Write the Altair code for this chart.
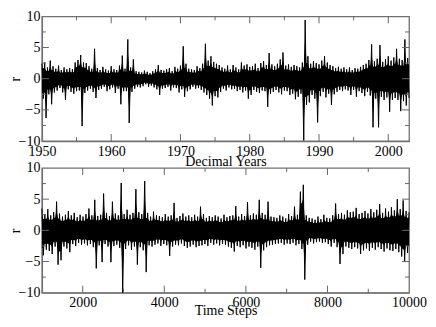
import altair as alt
import pandas as pd

# ---- top panel: r versus decimal years (sampled every 0.2 yr from 1950) ----
year_start = 1950.0
year_step = 0.2
r_years = [
    2.4, -3.2, 2.6, -6.3, 1.8, -2.5, 2.9, -4.1, 2.0, -2.2,
    1.6, -1.9, 2.1, -1.5, 1.4, -2.2, 1.8, -3.4, 1.5, -1.7,
    1.7, -2.1, 1.5, -2.4, 2.6, -2.0, 3.0, -1.9, 3.8, -7.6,
    2.6, -2.3, 2.5, -1.9, 2.0, -1.6, 1.6, -2.1, 4.8, -3.1,
    1.7, -1.8, 1.4, -1.6, 1.9, -1.3, 1.5, -2.0, 1.3, -1.7,
    2.0, -1.4, 1.5, -2.3, 1.4, -1.6, 2.1, -4.1, 3.7, -2.0,
    1.6, -2.0, 6.3, -7.1, 1.8, -2.1, 3.1, -1.6, 1.2, -1.3,
    1.1, -1.4, 1.0, -1.2, 1.3, -0.9, 1.1, -1.3, 0.9, -1.1,
    1.2, -1.4, 1.5, -1.7, 2.2, -2.6, 1.4, -1.6, 1.3, -1.5,
    1.5, -1.3, 1.7, -1.9, 1.2, -1.4, 1.9, -1.5, 1.6, -2.2,
    2.1, -1.7, 5.2, -2.9, 2.4, -2.0, 1.6, -1.7, 1.5, -1.3,
    1.4, -1.6, 2.0, -1.5, 1.7, -1.8, 2.4, -2.2, 5.6, -2.6,
    2.9, -3.2, 3.6, -4.3, 2.7, -2.8, 2.4, -3.0, 2.2, -2.1,
    1.8, -1.6, 1.6, -1.9, 2.1, -1.4, 1.5, -1.7, 2.2, -1.6,
    1.8, -2.0, 1.5, -1.8, 2.6, -2.2, 2.1, -1.9, 2.3, -3.2,
    1.9, -2.6, 2.0, -1.8, 2.4, -2.1, 1.7, -2.3, 2.5, -1.9,
    2.8, -2.0, 2.2, -4.5, 4.1, -2.4, 2.3, -2.1, 2.0, -1.8,
    2.4, -2.2, 3.1, -2.5, 4.2, -1.9, 2.1, -2.0, 2.3, -2.6,
    1.9, -2.4, 2.2, -3.3, 2.0, -2.9, 1.8, -2.4, 2.6, -9.9,
    9.4, -4.2, 3.6, -3.8, 2.4, -2.6, 2.8, -3.2, 2.5, -7.0,
    2.3, -2.8, 2.9, -2.1, 3.6, -3.0, 2.6, -2.4, 2.2, -4.2,
    2.0, -2.5, 1.7, -2.1, 1.9, -1.8, 1.6, -2.0, 1.8, -1.7,
    1.5, -1.9, 1.8, -2.6, 1.4, -1.8, 1.7, -2.9, 1.6, -2.0,
    1.9, -2.3, 2.2, -2.8, 2.4, -2.1, 3.0, -2.7, 5.5, -7.8,
    2.8, -3.2, 3.2, -7.8, 5.4, -2.9, 2.7, -3.4, 3.1, -3.0,
    3.6, -5.3, 2.9, -3.4, 3.4, -3.1, 4.8, -3.4, 3.2, -5.2,
    3.0, -3.6, 6.3, -4.3, 3.3, -3.1,
]

# ---- bottom panel: r versus time steps (sampled every 36 steps from 1000) ----
step_start = 1000
step_step = 36
r_steps = [
    3.5, -4.0, 2.6, -3.1, 3.4, -3.3, 2.4, -3.8, 2.9, -2.6,
    4.6, -5.5, 2.7, -4.8, 2.2, -2.6, 2.5, -2.9, 3.1, -3.5,
    2.4, -2.2, 2.8, -2.5, 2.1, -2.0, 2.5, -2.3, 2.2, -2.1,
    2.6, -2.4, 3.5, -2.2, 2.4, -2.7, 4.9, -6.1, 2.3, -2.4,
    2.5, -5.1, 5.9, -2.2, 2.8, -2.6, 2.3, -5.1, 4.6, -2.5,
    2.7, -2.3, 2.4, -2.8, 7.6, -10.0, 2.6, -3.0, 3.3, -2.4,
    2.5, -3.1, 2.8, -2.6, 6.6, -5.5, 2.9, -2.7, 2.6, -3.2,
    7.9, -6.7, 2.8, -2.4, 2.2, -2.6, 3.0, -2.3, 2.4, -2.1,
    2.3, -2.5, 2.1, -2.2, 2.6, -2.4, 2.2, -4.1, 2.4, -2.6,
    4.4, -2.3, 2.0, -2.4, 2.3, -2.1, 2.7, -2.5, 2.2, -2.8,
    2.4, -2.6, 2.1, -2.3, 2.5, -2.7, 2.2, -2.5, 3.8, -2.4,
    2.6, -2.2, 2.0, -2.5, 2.3, -2.0, 2.1, -2.3, 2.4, -2.1,
    2.2, -2.4, 1.9, -2.2, 2.5, -2.3, 2.1, -2.6, 2.3, -2.8,
    2.4, -3.4, 3.9, -2.5, 2.2, -2.7, 2.6, -2.4, 2.3, -2.9,
    4.5, -2.6, 2.4, -2.8, 2.7, -3.1, 2.5, -2.6, 4.9, -6.0,
    2.8, -3.2, 2.5, -2.7, 4.6, -2.4, 2.2, -2.3, 2.1, -2.2,
    2.0, -2.1, 2.4, -2.0, 2.2, -2.3, 1.9, -2.1, 2.6, -2.2,
    2.3, -2.0, 3.8, -2.4, 2.5, -2.2, 6.2, -3.0, 7.3, -7.9,
    2.4, -2.3, 2.0, -1.8, 1.9, -2.1, 1.7, -1.9, 2.2, -1.8,
    1.8, -2.0, 2.5, -1.9, 2.0, -2.2, 1.9, -2.6, 2.4, -2.0,
    4.3, -2.7, 2.6, -5.4, 2.8, -3.8, 2.5, -2.6, 3.2, -2.8,
    2.9, -3.0, 3.0, -2.7, 3.6, -2.9, 2.6, -3.8, 2.8, -3.2,
    3.1, -2.9, 2.7, -3.3, 3.4, -2.8, 2.9, -3.1, 3.3, -2.7,
    4.2, -3.0, 2.8, -3.4, 3.5, -2.9, 3.0, -3.2, 3.7, -3.3,
    3.2, -3.0, 5.0, -3.5, 3.4, -4.2, 4.8, -5.0, 3.1, -3.6,
    2.9,
]

# ---- axes: labels and tick positions ----
year_domain = [1950, 2003]
step_domain = [1000, 10000]
r_domain = [-10, 10]
year_labels = [1950, 1960, 1970, 1980, 1990, 2000]
step_labels = [2000, 4000, 6000, 8000, 10000]
r_labels = [-10, -5, 0, 5, 10]
year_major = [1960, 1970, 1980, 1990, 2000]
year_minor = [1955, 1965, 1975, 1985, 1995]
step_major = [2000, 4000, 6000, 8000]
step_minor = [3000, 5000, 7000, 9000]
r_major = [-5, 0, 5]
r_minor = [-7.5, -2.5, 2.5, 7.5]

W, H = 368, 125
TICK = "#666666"
FRAME = "#707070"
FONT = "Liberation Serif"
CORE = 0.7  # share of the smaller neighbouring swing drawn as the dense core


def build_table(t0, dt, vals):
    rows = []
    n = len(vals)
    for i, v in enumerate(vals):
        win = vals[max(0, i - 1):min(n, i + 2)]
        pos = [w for w in win if w > 0]
        neg = [w for w in win if w < 0]
        hi = CORE * min(pos) if pos else 0.0
        lo = CORE * max(neg) if neg else 0.0
        rows.append({"t": t0 + dt * i, "r": v, "hi": hi, "lo": lo})
    return pd.DataFrame(rows)


def panel(t0, dt, vals, xdom, xlabels, xmaj, xmin, xtitle, title_y):
    df = build_table(t0, dt, vals)
    xs = alt.Scale(domain=xdom, nice=False, zero=False)
    ys = alt.Scale(domain=r_domain, nice=False, zero=False)
    common = dict(ticks=False, grid=False, labelFlush=False, labelOverlap=False,
                  labelFont=FONT, labelFontSize=14, labelColor="black",
                  titleFont=FONT, titleFontSize=14, titleFontWeight="normal",
                  titleColor="black", domainColor=FRAME, domainWidth=1.3)
    xaxis = alt.Axis(values=xlabels, title=xtitle, labelPadding=3, format="d",
                     titleY=title_y, **common)
    yaxis = alt.Axis(values=r_labels, title="r", labelPadding=2,
                     titleX=-22, titleY=H / 2, titleAngle=270,
                     titleBaseline="alphabetic", titleAlign="center", **common)
    X = alt.X("t:Q", scale=xs, axis=xaxis)
    Y = alt.Y("r:Q", scale=ys, axis=yaxis)
    core = alt.Chart(df).mark_area(color="black", opacity=1).encode(
        x=X, y=alt.Y("hi:Q", scale=ys, axis=yaxis), y2="lo:Q")
    line = alt.Chart(df).mark_line(color="black", strokeWidth=1).encode(x=X, y=Y)

    def xt(vals_, y0, y1):
        return alt.Chart(pd.DataFrame({"t": vals_})).mark_rule(
            color=TICK, strokeWidth=1).encode(
            x=X, y=alt.value(y0), y2=alt.value(y1))

    def yt(vals_, x0, x1):
        return alt.Chart(pd.DataFrame({"r": vals_})).mark_rule(
            color=TICK, strokeWidth=1).encode(
            y=Y, x=alt.value(x0), x2=alt.value(x1))

    layers = [
        core, line,
        xt(xmaj, 0, 7), xt(xmaj, H, H - 7),
        xt(xmin, 0, 4), xt(xmin, H, H - 4),
        yt(r_major, 0, 7), yt(r_major, W, W - 7),
        yt(r_minor, 0, 4), yt(r_minor, W, W - 4),
    ]
    return alt.layer(*layers).properties(width=W, height=H)


top = panel(year_start, year_step, r_years, year_domain, year_labels,
            year_major, year_minor, "Decimal Years", 14)
bottom = panel(step_start, step_step, r_steps, step_domain, step_labels,
               step_major, step_minor, "Time Steps", 11)

chart = alt.vconcat(top, bottom, spacing=27, bounds="flush").properties(
    padding={"left": 0, "top": 0, "right": 0, "bottom": 0},
    background="white",
).configure_view(
    stroke=FRAME, strokeWidth=1.3
)

chart.save("out.html", embed_options={"renderer": "svg", "actions": False})
